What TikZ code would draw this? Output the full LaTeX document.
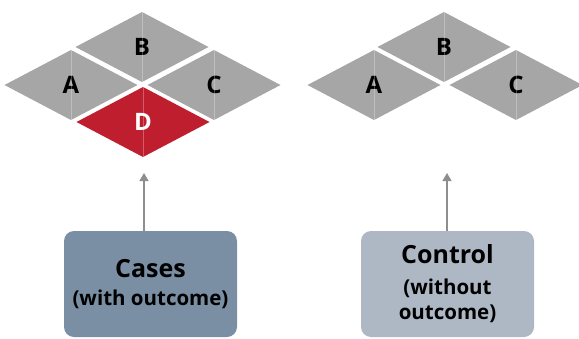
\documentclass[tikz,border=0pt]{standalone}
\usepackage{fontspec}
\setmainfont{Open Sans}
\usetikzlibrary{shapes.geometric,arrows.meta}

\definecolor{tilegray}{HTML}{A6A6A6}
\definecolor{tilered}{HTML}{BE1E2D}
\definecolor{casefill}{HTML}{7A8FA3}
\definecolor{ctrlfill}{HTML}{ADB8C4}
\definecolor{arrowgray}{HTML}{8E8E8E}

\tikzset{
  tile/.style={diamond, fill=tilegray, draw=none, inner sep=0pt, outer sep=0pt,
    minimum width=133pt, minimum height=70pt,
    font=\fontsize{24}{24}\selectfont\bfseries, text=black},
  redtile/.style={tile, fill=tilered, text=white},
  seam/.style={white, opacity=0.28, line width=0.8pt},
  groupbox/.style={rectangle, rounded corners=10pt, draw=none,
    minimum width=173pt, minimum height=106pt, inner sep=0pt, align=center,
    font=\fontsize{20.5}{28}\selectfont\bfseries, text=black},
  upline/.style={draw=arrowgray, line width=1.3pt,
    -{Triangle[width=9pt,length=8pt]}},
}

\begin{document}
\begin{tikzpicture}[x=1pt, y=-1pt]
  \useasboundingbox (0,0) rectangle (579,338);

  % cases: four tiles with the outcome tile D
  \node[tile]    (cA) at (71,85)  {A};
  \node[tile]    (cB) at (142,47) {B};
  \node[tile]    (cC) at (214,85) {C};
  \node[redtile] (cD) at (143,122) {D};

  % controls: three tiles, no outcome tile
  \node[tile] (kA) at (374,85)  {A};
  \node[tile] (kB) at (444,47)  {B};
  \node[tile] (kC) at (516,85)  {C};

  % faint seams down the middle of each tile
  \foreach \t in {cA,cB,cC,cD,kA,kB,kC}
    \draw[seam] (\t.north) -- (\t.south);

  % group boxes
  \node[groupbox, fill=casefill] (cases) at (150.5,284)
    {{\fontsize{25}{25}\selectfont Cases}\\(with outcome)};
  \node[groupbox, fill=ctrlfill] (control) at (447.5,284)
    {{\fontsize{25}{25}\selectfont Control}\\[3pt](without\\[-3pt]outcome)};

  % arrows from the boxes up towards the tiles
  \coordinate (tipC) at (144,173);
  \coordinate (tipK) at (447,173);
  \draw[upline] (cases.north -| tipC) -- (tipC);
  \draw[upline] (control.north -| tipK) -- (tipK);
\end{tikzpicture}
\end{document}
